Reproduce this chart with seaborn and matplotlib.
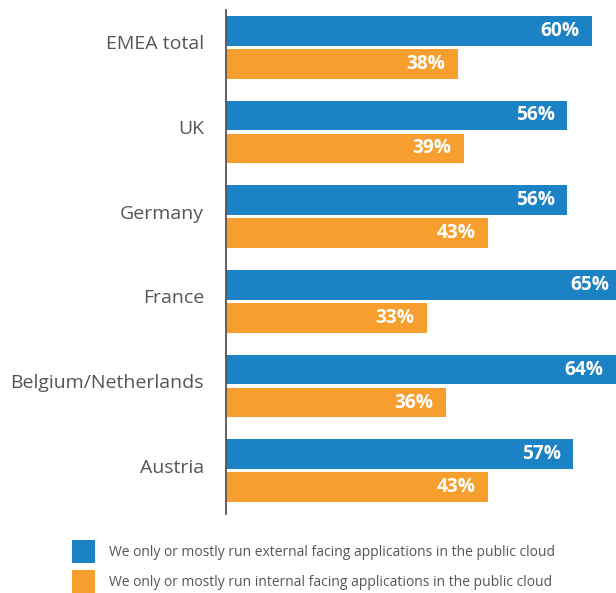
import matplotlib
matplotlib.use("Agg")
import matplotlib.pyplot as plt
import matplotlib.transforms as mtransforms
import seaborn as sns
import pandas as pd

categories = ["EMEA total", "UK", "Germany", "France", "Belgium/Netherlands", "Austria"]
external = [60, 56, 56, 65, 64, 57]
internal = [38, 39, 43, 33, 36, 43]
series_names = [
    "We only or mostly run external facing applications in the public cloud",
    "We only or mostly run internal facing applications in the public cloud",
]
colors = ["#1B82C5", "#F79F2E"]

df = pd.DataFrame({
    "country": categories * 2,
    "value": external + internal,
    "series": [series_names[0]] * len(categories) + [series_names[1]] * len(categories),
})

sns.set_theme(style="white")
plt.rcParams["font.family"] = ["Open Sans", "DejaVu Sans"]

fig = plt.figure(figsize=(6.16, 5.93), dpi=100)
ax = fig.add_axes([226.3 / 616, 1 - 514 / 593, 1 - 226.3 / 616, (514 - 10) / 593])

sns.barplot(data=df, y="country", x="value", hue="series", order=categories,
            hue_order=series_names, palette=colors, orient="h",
            width=0.78, gap=0.1, saturation=1, linewidth=0, ax=ax, legend=True)

ax.set_xlim(0, 64.0)
ax.set_ylim(len(categories) - 1 + 0.51, -0.44)
for s in ["top", "right", "bottom"]:
    ax.spines[s].set_visible(False)
ax.spines["left"].set_color("#555555")
ax.spines["left"].set_linewidth(1.3)
ax.set_xticks([])
ax.set_xlabel("")
ax.set_ylabel("")
ax.tick_params(axis="y", length=0, pad=16, labelsize=14, labelcolor="#555555")
offset = mtransforms.ScaledTranslation(0, 5 / 100, fig.dpi_scale_trans)
for lbl in ax.get_yticklabels():
    lbl.set_transform(lbl.get_transform() + offset)

for container in ax.containers:
    for patch in container:
        w = patch.get_width()
        y = patch.get_y() + patch.get_height() / 2
        ax.annotate(f"{w:.0f}%", xy=(w, y), xytext=(-9, 0), textcoords="offset points",
                    ha="right", va="center", color="white", fontsize=13.8,
                    fontweight="bold", annotation_clip=False, clip_on=True)

handles, labels = ax.get_legend_handles_labels()
ax.get_legend().remove()
fig.legend(handles, labels, loc="upper left", bbox_to_anchor=(72 / 616, 1 - 540 / 593),
           frameon=False, fontsize=10, labelcolor="#555555", handlelength=1.63,
           handleheight=2.135, handletextpad=1.0, labelspacing=0.525, borderaxespad=0,
           borderpad=0)

fig.savefig("out.png", dpi=100)
